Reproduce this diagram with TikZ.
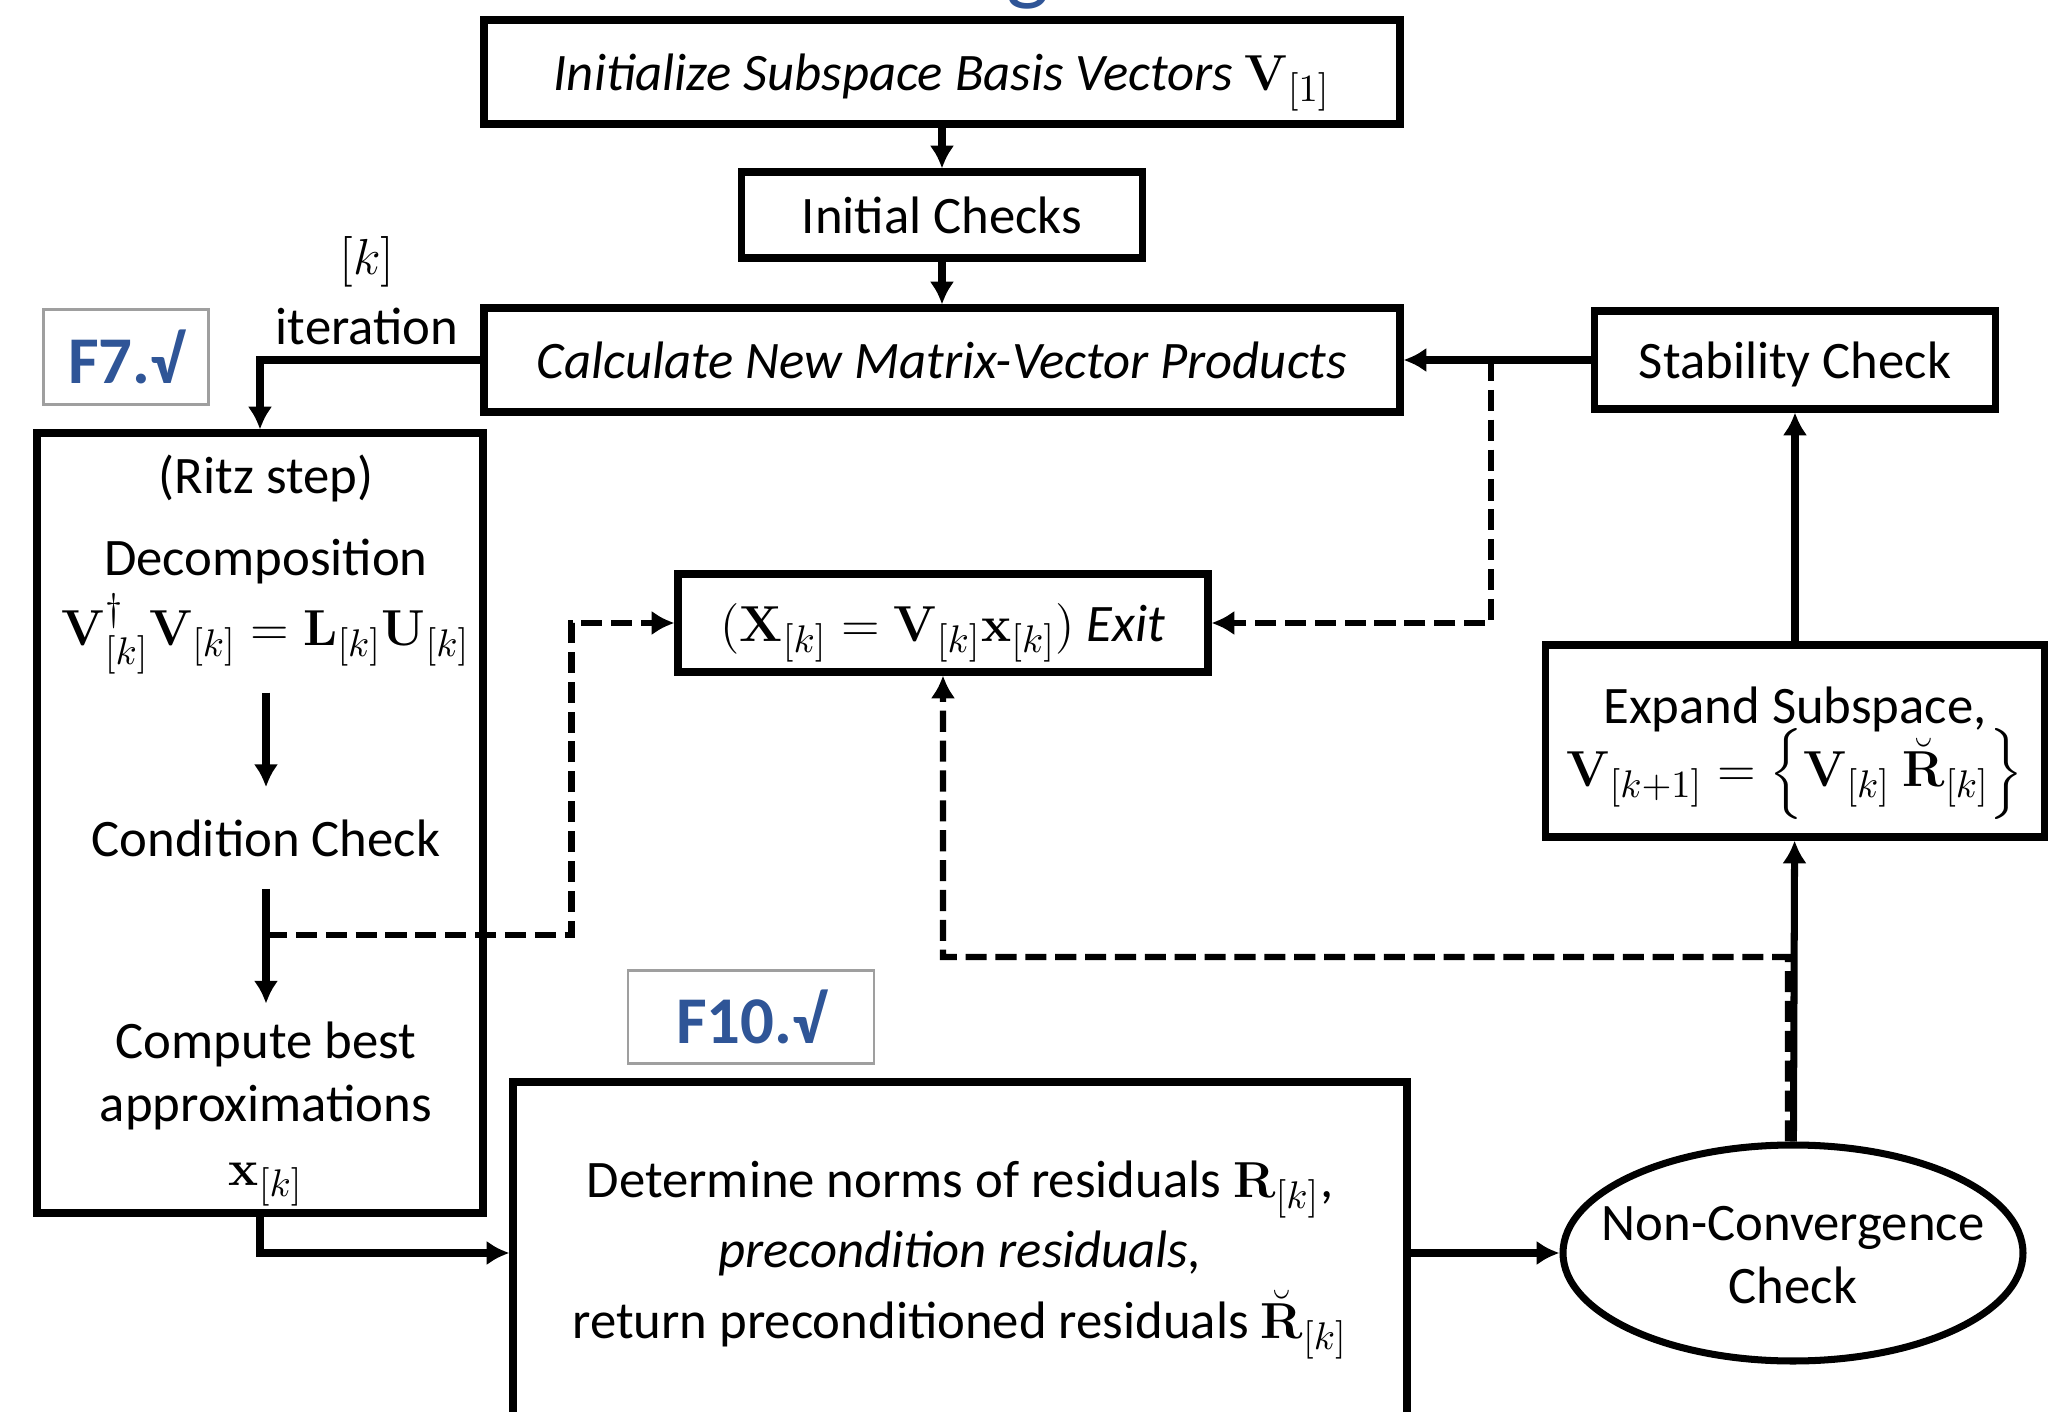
\documentclass[tikz,border=0pt]{standalone}
\usepackage[no-math]{fontspec}
\setmainfont{Carlito}
\usepackage{amsmath}
\usepackage{xcolor}
\usepackage{tikz}
\usetikzlibrary{shapes,arrows.meta,positioning,calc}
\definecolor{fblue}{RGB}{47,85,151}

\begin{document}
\begin{tikzpicture}[
            every node/.style={font=\fontsize{15}{18}\selectfont},
            box/.style={draw, line width=2pt, align=center, inner sep=0pt},
            one/.style={text height=14pt, text depth=3.5pt},
            txt/.style={inner sep=0pt, align=center},
            tag/.style={draw=gray!75, line width=0.8pt, text=fblue, font=\bfseries\fontsize{19}{23}\selectfont},
            arr/.style={-{Latex[length=6.5pt,width=7pt]}, line width=2pt},
            dsh/.style={line width=1.8pt, dash pattern=on 6pt off 2.5pt},
        ]
            \useasboundingbox (0,0) rectangle (20.63,-14.12);
            \node[text=fblue, anchor=base, font=\fontsize{26}{30}\selectfont] (ttl) at (10.28,0.06) {g};
            \node[box, one, minimum width=9.16cm, minimum height=1.04cm] (init) at (9.42,-0.72) {\textit{Initialize Subspace Basis Vectors} $\mathbf{V}_{[1]}$};
            \node[box, one, minimum width=4.01cm, minimum height=0.86cm] (chk) at (9.42,-2.15) {Initial Checks};
            \node[box, one, minimum width=9.16cm, minimum height=1.04cm] (calc) at (9.42,-3.60) {\textit{Calculate New Matrix-Vector Products}};
            \node[box, one, minimum width=4.01cm, minimum height=0.98cm] (stab) at (17.95,-3.60) {Stability Check};
            \node[tag, minimum width=1.65cm, minimum height=0.95cm] (f7) at (1.26,-3.57) {F7.√};
            \node[txt] (klbl) at (3.67,-2.62) {$[k]$};
            \node[txt] (iter) at (3.67,-3.26) {iteration};
            \node[box, minimum width=4.46cm, minimum height=7.80cm] (ritz) at (2.60,-8.23) {};
            \node[txt] (ritzlbl) at (2.66,-4.78) {(Ritz step)};
            \node[txt] (decomp) at (2.66,-5.62) {Decomposition};
            \node[txt] (eqn) at (2.66,-6.34) {$\mathbf{V}_{[k]}^{\dagger}\mathbf{V}_{[k]} = \mathbf{L}_{[k]}\mathbf{U}_{[k]}$};
            \node[txt] (cond) at (2.66,-8.38) {Condition Check};
            \node[txt] (best) at (2.66,-11.14) {Compute best\\approximations\\$\mathbf{x}_{[k]}$};
            \coordinate (cbr) at (2.66,-9.35);
            \node[box, one, minimum width=5.30cm, minimum height=0.98cm] (exit) at (9.43,-6.23) {$(\mathbf{X}_{[k]} = \mathbf{V}_{[k]}\mathbf{x}_{[k]})$ \textit{Exit}};
            \coordinate (sbr) at (14.91,-3.60);
            \node[box, minimum width=4.99cm, minimum height=1.92cm] (exp) at (17.95,-7.41) {};
            \node[txt] (explbl) at (17.95,-7.53) {Expand Subspace,\\[-2pt]$\mathbf{V}_{[k+1]} = \left\{\mathbf{V}_{[k]}\ \breve{\mathbf{R}}_{[k]}\right\}$};
            \node[ellipse, draw, line width=2pt, minimum width=4.60cm, minimum height=2.16cm] (ncc) at (17.93,-12.53) {};
            \node[txt] (ncclbl) at (17.93,-12.55) {Non-Convergence\\Check};
            \coordinate (nbr) at (17.88,-9.57);
            \node[box, minimum width=8.94cm, minimum height=3.42cm] (det) at (9.60,-12.53) {};
            \node[txt] (detlbl) at (9.60,-12.60) {Determine norms of residuals $\mathbf{R}_{[k]}$,\\[2pt]\textit{precondition residuals,}\\[2pt]return preconditioned residuals $\breve{\mathbf{R}}_{[k]}$};
            \node[tag, minimum width=2.46cm, minimum height=0.93cm] (f10) at (7.51,-10.17) {F10.√};
            \draw[arr] (init) -- (chk);
            \draw[arr] (chk) -- (calc);
            \draw[arr] (stab) -- (calc);
            \draw[arr] (calc.west) -| (ritz.north);
            \draw[arr, shorten <=5pt, shorten >=9pt] (eqn.south) -- (cond.north);
            \draw[arr, shorten <=9pt, shorten >=5pt] (cond.south) -- (best.north);
            \draw[dsh, -{Latex[length=6.5pt,width=7pt]}] (cbr) -| ([xshift=-1.03cm]exit.west) -- (exit.west);
            \draw[dsh, -{Latex[length=6.5pt,width=7pt]}] (sbr) |- (exit.east);
            \draw[arr] (exp) -- (stab);
            \draw[arr] (ncc) -- (exp);
            \draw[dsh, -{Latex[length=6.5pt,width=7pt]}] ([xshift=-0.05cm]ncc.north) -- (nbr) -| (exit.south);
            \draw[arr] (ritz.south) |- (det.west);
            \draw[arr] (det) -- (ncc);
        \end{tikzpicture}
\end{document}
